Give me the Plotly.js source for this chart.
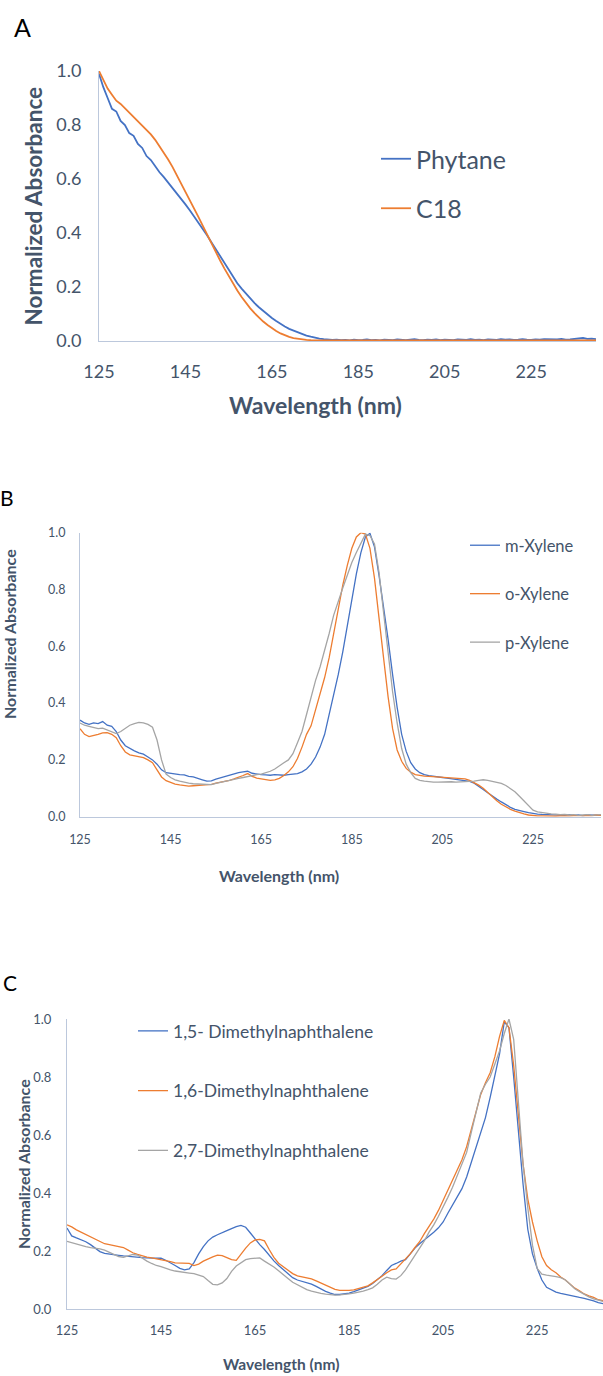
<!DOCTYPE html>
<html>
<head>
<meta charset="utf-8">
<script src="https://cdn.plot.ly/plotly-3.0.1.min.js"></script>
<style>
html,body{margin:0;padding:0;background:#fff;overflow:hidden;}
#chart{width:603px;height:1376px;}
</style>
</head>
<body>
<div id="chart"></div>
<script>
// Wavelength grid (nm)
const wavelength = [
125,126,127,128,129,130,131,132,133,134,
135,136,137,138,139,140,141,142,143,144,
145,146,147,148,149,150,151,152,153,154,
155,156,157,158,159,160,161,162,163,164,
165,166,167,168,169,170,171,172,173,174,
175,176,177,178,179,180,181,182,183,184,
185,186,187,188,189,190,191,192,193,194,
195,196,197,198,199,200,201,202,203,204,
205,206,207,208,209,210,211,212,213,214,
215,216,217,218,219,220,221,222,223,224,
225,226,227,228,229,230,231,232,233,234,
235,236,237,238,239,240];

const xTicks = [125,145,165,185,205,225];
const yTicks = [0,0.2,0.4,0.6,0.8,1.0];

// Panel A
const phytane = [
0.99,0.94,0.90,0.86,0.85,0.815,0.80,0.77,0.76,0.73,
0.715,0.685,0.67,0.645,0.625,0.607,0.587,0.566,0.549,0.527,
0.506,0.484,0.462,0.44,0.416,0.392,0.366,0.34,0.313,0.288,
0.261,0.237,0.214,0.194,0.175,0.157,0.14,0.125,0.111,0.097,
0.085,0.074,0.063,0.054,0.045,0.038,0.032,0.026,0.02,0.016,
0.012,0.009,0.007,0.005,0.004,0.005,0.003,0.004,0.002,0.005,
0.003,0.004,0.006,0.003,0.004,0.002,0.005,0.004,0.003,0.006,
0.004,0.003,0.005,0.007,0.004,0.003,0.005,0.004,0.006,0.003,
0.005,0.004,0.003,0.006,0.005,0.004,0.007,0.004,0.005,0.003,
0.006,0.005,0.004,0.007,0.005,0.006,0.004,0.005,0.007,0.005,
0.004,0.006,0.005,0.007,0.006,0.005,0.006,0.008,0.005,0.006,
0.007,0.009,0.011,0.008,0.009,0.007];
const c18 = [
1.0,0.965,0.935,0.912,0.89,0.878,0.862,0.848,0.832,0.816,
0.8,0.782,0.765,0.745,0.722,0.698,0.672,0.645,0.615,0.585,
0.555,0.524,0.492,0.46,0.427,0.394,0.362,0.33,0.299,0.269,
0.24,0.213,0.187,0.163,0.141,0.121,0.103,0.087,0.072,0.059,
0.047,0.037,0.028,0.021,0.015,0.011,0.008,0.006,0.004,0.003,
0.003,0.002,0.002,0.002,0.002,0.002,0.002,0.003,0.002,0.002,
0.002,0.003,0.002,0.002,0.003,0.002,0.002,0.003,0.002,0.002,
0.002,0.003,0.002,0.002,0.003,0.002,0.002,0.003,0.002,0.002,
0.002,0.003,0.002,0.002,0.003,0.002,0.002,0.003,0.002,0.002,
0.002,0.003,0.002,0.002,0.003,0.002,0.002,0.003,0.002,0.002,
0.002,0.003,0.002,0.002,0.003,0.002,0.002,0.003,0.002,0.002,
0.002,0.003,0.002,0.002,0.003,0.002];

// Panel B
const mXylene = [
0.34,0.33,0.325,0.33,0.328,0.335,0.322,0.318,0.3,0.27,
0.25,0.24,0.232,0.225,0.22,0.21,0.2,0.185,0.165,0.155,
0.152,0.15,0.148,0.147,0.142,0.14,0.136,0.13,0.125,0.126,
0.132,0.137,0.14,0.145,0.15,0.155,0.158,0.16,0.153,0.15,
0.148,0.147,0.146,0.148,0.147,0.146,0.148,0.15,0.152,0.158,
0.168,0.185,0.21,0.245,0.29,0.36,0.425,0.5,0.58,0.675,
0.77,0.855,0.93,0.985,0.998,0.95,0.85,0.74,0.625,0.5,
0.385,0.29,0.23,0.19,0.168,0.155,0.148,0.145,0.142,0.14,
0.138,0.136,0.134,0.132,0.13,0.128,0.124,0.118,0.108,0.096,
0.084,0.072,0.062,0.052,0.042,0.033,0.026,0.021,0.018,0.014,
0.011,0.009,0.008,0.007,0.006,0.005,0.006,0.005,0.007,0.005,
0.006,0.004,0.006,0.005,0.006,0.005];
const oXylene = [
0.31,0.29,0.282,0.285,0.29,0.295,0.296,0.29,0.278,0.25,
0.228,0.218,0.214,0.212,0.208,0.2,0.19,0.165,0.14,0.127,
0.12,0.115,0.112,0.11,0.108,0.109,0.11,0.111,0.112,0.114,
0.118,0.121,0.125,0.128,0.133,0.138,0.145,0.152,0.142,0.136,
0.133,0.13,0.128,0.13,0.135,0.145,0.158,0.176,0.205,0.245,
0.29,0.32,0.375,0.434,0.49,0.56,0.645,0.74,0.815,0.885,
0.945,0.985,1.0,0.995,0.945,0.84,0.71,0.56,0.423,0.31,
0.235,0.195,0.17,0.157,0.148,0.145,0.143,0.142,0.141,0.14,
0.139,0.138,0.137,0.136,0.135,0.133,0.128,0.12,0.111,0.1,
0.085,0.07,0.056,0.044,0.034,0.026,0.02,0.014,0.01,0.006,
0.004,0.003,0.003,0.002,0.003,0.002,0.003,0.002,0.003,0.004,
0.003,0.004,0.005,0.004,0.006,0.005];
const pXylene = [
0.33,0.322,0.318,0.315,0.31,0.312,0.305,0.298,0.293,0.3,
0.31,0.322,0.328,0.332,0.33,0.325,0.315,0.27,0.2,0.15,
0.138,0.13,0.125,0.121,0.118,0.116,0.115,0.113,0.112,0.113,
0.117,0.121,0.125,0.128,0.132,0.135,0.138,0.142,0.145,0.148,
0.15,0.155,0.16,0.168,0.18,0.19,0.2,0.222,0.26,0.3,
0.36,0.42,0.48,0.528,0.585,0.645,0.71,0.76,0.805,0.85,
0.895,0.93,0.965,0.995,0.99,0.96,0.86,0.72,0.58,0.44,
0.33,0.24,0.185,0.155,0.135,0.128,0.125,0.123,0.122,0.122,
0.123,0.123,0.123,0.122,0.123,0.124,0.123,0.125,0.128,0.13,
0.128,0.125,0.12,0.117,0.11,0.1,0.088,0.072,0.055,0.038,
0.023,0.017,0.014,0.012,0.01,0.009,0.007,0.008,0.006,0.007,
0.005,0.006,0.007,0.005,0.006,0.007];

// Panel C
const dmn15 = [
0.279,0.252,0.245,0.238,0.232,0.222,0.21,0.198,0.192,0.189,
0.187,0.185,0.183,0.181,0.179,0.178,0.177,0.176,0.176,0.176,
0.175,0.168,0.16,0.15,0.14,0.135,0.138,0.16,0.19,0.215,
0.235,0.248,0.256,0.262,0.27,0.277,0.284,0.288,0.282,0.262,
0.24,0.222,0.205,0.185,0.166,0.15,0.135,0.12,0.108,0.1,
0.095,0.09,0.086,0.078,0.068,0.061,0.055,0.05,0.05,0.052,
0.055,0.06,0.066,0.072,0.078,0.088,0.1,0.115,0.133,0.15,
0.157,0.165,0.17,0.19,0.21,0.225,0.238,0.25,0.265,0.28,
0.3,0.33,0.36,0.39,0.415,0.455,0.505,0.555,0.61,0.66,
0.73,0.8,0.88,0.99,0.97,0.8,0.61,0.43,0.275,0.19,
0.14,0.1,0.075,0.065,0.058,0.054,0.05,0.047,0.044,0.04,
0.037,0.033,0.028,0.022,0.018,0.015];
const dmn16 = [
0.29,0.283,0.273,0.265,0.258,0.25,0.242,0.233,0.225,0.222,
0.219,0.217,0.212,0.203,0.194,0.188,0.183,0.179,0.176,0.173,
0.171,0.168,0.163,0.159,0.158,0.158,0.157,0.15,0.155,0.165,
0.173,0.18,0.186,0.184,0.177,0.17,0.168,0.19,0.21,0.228,
0.238,0.24,0.235,0.205,0.178,0.158,0.145,0.132,0.122,0.114,
0.11,0.107,0.104,0.097,0.09,0.084,0.076,0.068,0.064,0.063,
0.064,0.066,0.07,0.076,0.08,0.09,0.1,0.113,0.125,0.135,
0.138,0.155,0.17,0.19,0.212,0.232,0.26,0.285,0.31,0.34,
0.375,0.405,0.44,0.475,0.515,0.56,0.62,0.68,0.74,0.78,
0.815,0.87,0.94,0.995,0.97,0.84,0.68,0.5,0.38,0.3,
0.235,0.18,0.15,0.135,0.125,0.11,0.1,0.085,0.072,0.063,
0.052,0.045,0.04,0.032,0.028,0.025];
const dmn27 = [
0.233,0.228,0.223,0.219,0.215,0.212,0.21,0.207,0.203,0.195,
0.187,0.181,0.178,0.182,0.188,0.186,0.175,0.165,0.157,0.15,
0.146,0.14,0.135,0.131,0.128,0.126,0.124,0.122,0.118,0.112,
0.098,0.085,0.083,0.09,0.105,0.13,0.148,0.16,0.17,0.174,
0.175,0.176,0.165,0.155,0.145,0.132,0.12,0.105,0.092,0.083,
0.074,0.067,0.062,0.057,0.054,0.051,0.049,0.048,0.049,0.05,
0.052,0.055,0.058,0.062,0.067,0.073,0.085,0.1,0.11,0.105,
0.103,0.115,0.135,0.16,0.185,0.21,0.235,0.265,0.29,0.32,
0.35,0.385,0.42,0.46,0.5,0.54,0.61,0.68,0.745,0.775,
0.8,0.845,0.89,0.95,1.0,0.93,0.72,0.5,0.35,0.22,
0.14,0.12,0.117,0.115,0.112,0.108,0.1,0.085,0.07,0.06,
0.05,0.042,0.035,0.03,0.025,0.022];

const BLUE = '#4472C4', ORANGE = '#ED7D31', GRAY = '#A5A5A5';
const TXT = '#44546A';
const FONT = 'Lato, "Open Sans", sans-serif';
const W = 603, H = 1376;
const px = v => v / W;
const py = v => 1 - v / H;

function tr(y, name, color, xa, ya, legend, grp, width) {
  return {x: wavelength, y: y, name: name, type: 'scatter', mode: 'lines',
    line: {color: color, width: width}, xaxis: xa, yaxis: ya,
    legend: legend, legendgroup: grp, hoverinfo: 'skip'};
}

const data = [
  tr(phytane, 'Phytane', BLUE, 'x', 'y', 'legend', 'a1', 1.8),
  tr(c18, 'C18', ORANGE, 'x', 'y', 'legend', 'a2', 1.8),
  tr(mXylene, 'm-Xylene', BLUE, 'x2', 'y2', 'legend2', 'b1', 1.3),
  tr(oXylene, 'o-Xylene', ORANGE, 'x2', 'y2', 'legend2', 'b2', 1.3),
  tr(pXylene, 'p-Xylene', GRAY, 'x2', 'y2', 'legend2', 'b3', 1.3),
  tr(dmn15, '1,5- Dimethylnaphthalene', BLUE, 'x3', 'y3', 'legend3', 'c1', 1.3),
  tr(dmn16, '1,6-Dimethylnaphthalene', ORANGE, 'x3', 'y3', 'legend3', 'c2', 1.3),
  tr(dmn27, '2,7-Dimethylnaphthalene', GRAY, 'x3', 'y3', 'legend3', 'c3', 1.3)
];

function xax(domain, range, fs, stand, anchor) {
  return {domain: domain, range: range, anchor: anchor, tickvals: xTicks,
    showgrid: false, zeroline: false, showline: true, linecolor: '#BCC8DC', linewidth: 1,
    ticks: '', ticklabelstandoff: stand, tickfont: {family: FONT, size: fs, color: TXT}, fixedrange: true};
}
function yax(domain, fs, stand, anchor) {
  return {domain: domain, range: [0, 1], anchor: anchor, tickvals: yTicks, tickformat: '.1f',
    showgrid: false, zeroline: false, showline: true, linecolor: '#BCC8DC', linewidth: 1,
    ticks: '', ticklabelstandoff: stand, tickfont: {family: FONT, size: fs, color: TXT}, fixedrange: true};
}
function leg(x, y, fs, gap) {
  return {x: px(x), y: py(y), xanchor: 'left', yanchor: 'top', bgcolor: 'rgba(0,0,0,0)',
    font: {family: FONT, size: fs, color: TXT}, tracegroupgap: gap, itemwidth: 30,
    traceorder: 'grouped'};
}
function ann(text, x, y, fs, bold, angle, color) {
  return {text: bold ? '<b>' + text + '</b>' : text, x: px(x), y: py(y), xref: 'paper', yref: 'paper',
    xanchor: 'center', yanchor: 'middle', showarrow: false, textangle: angle || 0,
    font: {family: FONT, size: fs, color: color || TXT}};
}

const layout = {
  width: W, height: H, margin: {l: 0, r: 0, t: 0, b: 0},
  paper_bgcolor: '#fff', plot_bgcolor: '#fff', showlegend: true,
  xaxis: xax([99 / W, 596 / W], [125, 240], 18, 14, 'y'),
  yaxis: yax([1 - 341 / H, 1 - 71 / H], 18, 13, 'x'),
  xaxis2: xax([80 / W, 601 / W], [125, 240], 12.5, 11, 'y2'),
  yaxis2: yax([1 - 816.7 / H, 1 - 532.7 / H], 12.5, 11, 'x2'),
  xaxis3: xax([67 / W, 1], [125, 239], 13, 9, 'y3'),
  yaxis3: yax([1 - 1309 / H, 1 - 1019 / H], 13, 12, 'x3'),
  legend: leg(376, 136, 25, 14),
  legend2: leg(465, 528, 16.5, 24),
  legend3: leg(133, 1013, 17.5, 34),
  annotations: [
    ann('A', 22, 27, 25, false, 0, '#000'),
    ann('B', 7, 497, 21, false, 0, '#000'),
    ann('C', 10, 982, 21, false, 0, '#000'),
    ann('Normalized Absorbance', 33, 206.5, 22.5, true, -90),
    ann('Wavelength (nm)', 315, 405, 23, true, 0),
    ann('Normalized Absorbance', 9, 634, 16, true, -90),
    ann('Wavelength (nm)', 279, 875, 16, true, 0),
    ann('Normalized Absorbance', 23, 1164, 16, true, -90),
    ann('Wavelength (nm)', 281, 1364, 15.5, true, 0)
  ]
};

Plotly.newPlot('chart', data, layout, {displayModeBar: false, staticPlot: true});
</script>
</body>
</html>
